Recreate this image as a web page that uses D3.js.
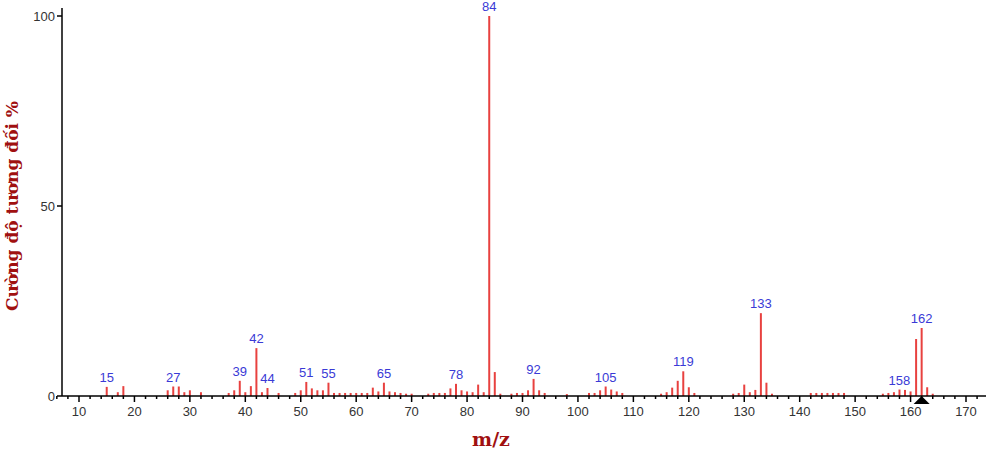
<!DOCTYPE html><html><head><meta charset="utf-8"><script src="https://cdn.jsdelivr.net/npm/d3@7"></script>
<style>body{margin:0;background:#fff}</style></head><body><svg id="c" width="986" height="452"></svg>
<script>
const mz=[15,17,18,26,27,28,29,30,32,37,38,39,40,41,42,43,44,46,49,50,51,52,53,54,55,56,57,58,59,60,61,62,63,64,65,66,67,68,69,70,73,74,75,76,77,78,79,80,81,82,83,84,85,86,88,89,90,91,92,93,94,98,102,103,104,105,106,107,108,115,116,117,118,119,120,121,128,129,130,131,132,133,134,135,142,143,144,145,146,147,148,155,156,157,158,159,160,161,162,163,164];
const intensity=[2.4,1,2.6,1.5,2.5,2.5,1,1.5,1,0.8,1.5,4,1,2.6,12.6,1,2.1,0.8,0.8,1.5,3.7,2,1.5,1.5,3.5,0.8,0.8,0.8,0.8,0.8,0.8,0.8,2.2,1.2,3.5,1.2,1,0.8,0.6,0.6,0.6,0.8,0.8,0.8,2,3.2,1.5,1.2,1,3,1,100,6.3,0.6,0.6,0.8,0.8,1.5,4.5,1.5,0.8,0.5,0.8,0.8,1.5,2.5,1.7,1.2,0.8,0.6,1,2.2,4,6.5,2.3,0.8,0.6,0.8,3,1,1.6,21.8,3.5,0.6,0.8,0.8,0.8,0.8,0.8,0.8,0.8,0.6,0.8,1,1.7,1.6,1.2,15,17.9,2.3,0.6];
const labeled=[15,27,39,42,44,51,55,65,78,84,92,105,119,133,158,162];
const xTicks=d3.range(10,171,10);
const yTicks=[0,50,100];
const svg=d3.select("#c");
const x=d3.scaleLinear().domain([10,170]).range([79,966]);
const y=d3.scaleLinear().domain([0,100]).range([396,16]);
const axisCol="#000";
// bars
svg.selectAll("line.p").data(mz).join("line").attr("x1",d=>x(d)).attr("x2",d=>x(d))
 .attr("y1",y(0)).attr("y2",(d,i)=>y(intensity[i])).attr("stroke","#e8413f").attr("stroke-width",2);
// x axis
svg.append("line").attr("x1",62).attr("x2",986).attr("y1",396).attr("y2",396).attr("stroke",axisCol).attr("stroke-width",1.5);
const minor=d3.range(10,171,2).filter(d=>d%10);
svg.selectAll("line.mi").data(minor.concat([6,8,172])).join("line").attr("x1",d=>x(d)).attr("x2",d=>x(d)).attr("y1",396).attr("y2",399).attr("stroke",axisCol).attr("stroke-width",1.5);
svg.selectAll("line.ma").data(xTicks).join("line").attr("x1",d=>x(d)).attr("x2",d=>x(d)).attr("y1",396).attr("y2",402).attr("stroke",axisCol).attr("stroke-width",1.5);
svg.selectAll("text.xt").data(xTicks).join("text").attr("x",d=>x(d)).attr("y",416).attr("text-anchor","middle")
 .attr("font-family","Liberation Sans, Arial").attr("font-size",13).attr("fill","#333").text(d=>d);
// y axis
svg.append("line").attr("x1",62).attr("x2",62).attr("y1",8).attr("y2",396).attr("stroke",axisCol).attr("stroke-width",1.5);
svg.selectAll("line.yt").data(yTicks).join("line").attr("x1",57).attr("x2",62).attr("y1",d=>y(d)).attr("y2",d=>y(d)).attr("stroke",axisCol).attr("stroke-width",1.5);
svg.selectAll("text.yt").data(yTicks).join("text").attr("x",55).attr("y",d=>y(d)+5).attr("text-anchor","end")
 .attr("font-family","Liberation Sans, Arial").attr("font-size",13).attr("fill","#333").text(d=>d);
// labels
svg.selectAll("text.lb").data(labeled).join("text").attr("x",d=>x(d)).attr("y",d=>y(intensity[mz.indexOf(d)])-5)
 .attr("text-anchor","middle").attr("font-family","Liberation Sans, Arial").attr("font-size",13).attr("fill","#3a3ad6").text(d=>d);
// triangle
const tx=x(162);
svg.append("path").attr("d",`M${tx-8},404L${tx+8},404L${tx},396Z`).attr("fill","#000");
// titles
svg.append("text").attr("x",491).attr("y",446).attr("text-anchor","middle").attr("font-family","DejaVu Serif, serif").attr("font-weight","bold").attr("font-size",19).attr("fill","#a01010").text("m/z");
svg.append("text").attr("transform","translate(18,206) rotate(-90)").attr("text-anchor","middle").attr("font-family","DejaVu Serif, serif").attr("font-weight","bold").attr("font-size",17).attr("fill","#a01010").text("Cường độ tương đối %");
</script></body></html>
